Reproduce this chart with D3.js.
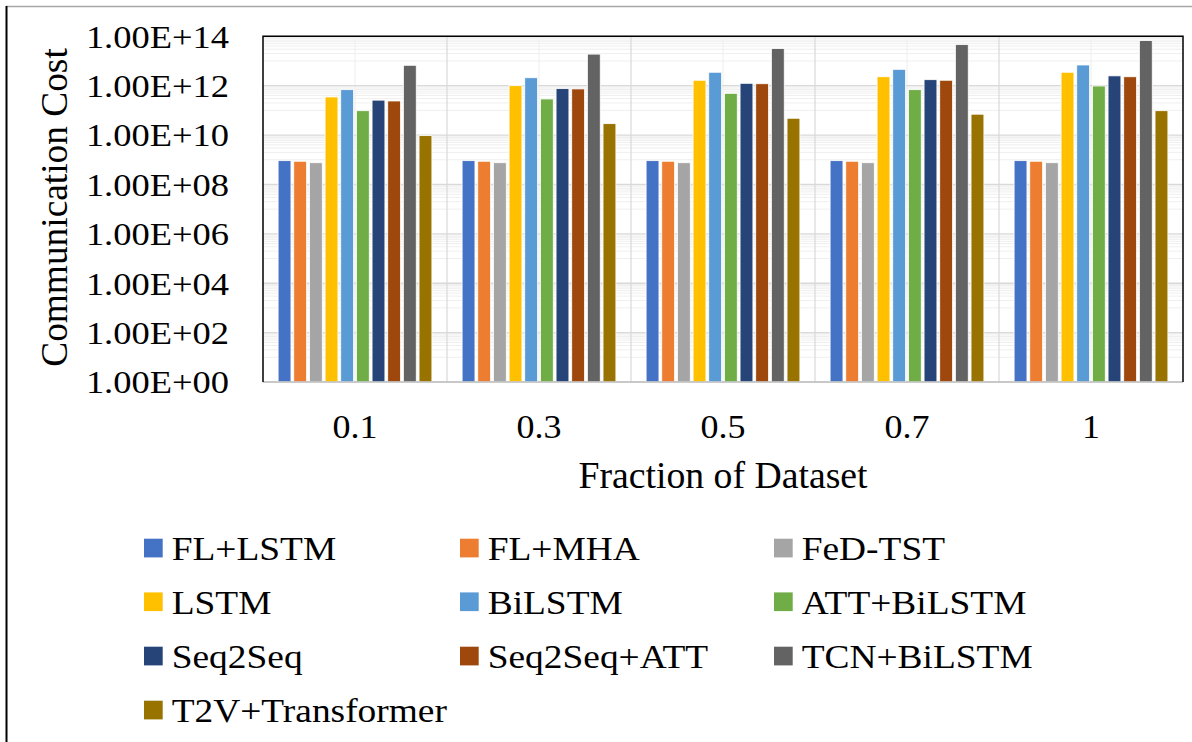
<!DOCTYPE html>
<html>
<head>
<meta charset="utf-8">
<script src="https://cdn.jsdelivr.net/npm/d3@7"></script>
<style>
  body { margin: 0; background: #fff; }
  text { font-family: "Liberation Serif", "Times New Roman", serif; fill: #000; }
</style>
</head>
<body>
<div id="chart-area"></div>
<script>
// Data
var categories = ["0.1", "0.3", "0.5", "0.7", "1"];
var seriesNames = ["FL+LSTM", "FL+MHA", "FeD-TST", "LSTM", "BiLSTM", "ATT+BiLSTM",
    "Seq2Seq", "Seq2Seq+ATT", "TCN+BiLSTM", "T2V+Transformer"];
var seriesColors = ["#4472C4", "#ED7D31", "#A5A5A5", "#FFC000", "#5B9BD5", "#70AD47",
    "#264478", "#9E480E", "#636363", "#997300"];

var flLstm      = [9.2e8, 9.2e8, 9.2e8, 9.2e8, 9.2e8];
var flMha       = [8.7e8, 8.7e8, 8.7e8, 8.7e8, 8.7e8];
var fedTst      = [7.6e8, 7.6e8, 7.6e8, 7.6e8, 7.6e8];
var lstm        = [3.5e11, 1.0e12, 1.66e12, 2.3e12, 3.5e12];
var biLstm      = [6.9e11, 2.1e12, 3.5e12, 4.6e12, 6.9e12];
var attBiLstm   = [9.7e10, 2.9e11, 4.9e11, 6.9e11, 9.7e11];
var seq2seq     = [2.6e11, 7.6e11, 1.25e12, 1.75e12, 2.5e12];
var seq2seqAtt  = [2.4e11, 7.4e11, 1.2e12, 1.66e12, 2.3e12];
var tcnBiLstm   = [6.7e12, 1.9e13, 3.2e13, 4.6e13, 6.7e13];
var t2vTrans    = [9.5e9, 2.9e10, 4.8e10, 7.0e10, 9.7e10];

var seriesValues = [flLstm, flMha, fedTst, lstm, biLstm, attBiLstm,
    seq2seq, seq2seqAtt, tcnBiLstm, t2vTrans];

var yTickValues = [1, 1e2, 1e4, 1e6, 1e8, 1e10, 1e12, 1e14];

var W = 1192, H = 742;
var plot = { left: 263, right: 1183, top: 36.3, bottom: 382 };

var svg = d3.select("#chart-area")
    .append("svg")
    .attr("width", W)
    .attr("height", H);

// the source picture is a bit wider than Times metrics, stretch text sideways
function stretch(sel, sx) {
    sel.each(function() {
        var t = d3.select(this);
        var tx = +t.attr("x") || 0, ty = +t.attr("y") || 0;
        t.attr("x", 0).attr("y", 0)
            .attr("transform", "translate(" + tx + "," + ty + ") scale(" + sx + ",1)");
    });
}

// Outer frame lines
svg.append("line")
    .attr("x1", 6).attr("x2", W).attr("y1", 6.5).attr("y2", 6.5)
    .attr("stroke", "#a6a6a6").attr("stroke-width", 1.5);
svg.append("line")
    .attr("x1", 6.5).attr("x2", 6.5).attr("y1", 6).attr("y2", H)
    .attr("stroke", "#000").attr("stroke-width", 2);

// Scales
var x0 = d3.scaleBand().domain(categories).range([plot.left, plot.right]).padding(0);
var x1 = d3.scaleBand().domain(seriesNames)
    .range([13.7, x0.bandwidth() - 13.7]).padding(0);
var y = d3.scaleLog().domain([1, 1e14]).range([plot.bottom, plot.top]);

// Minor gridlines (k * 10^odd)
var minorTicks = [];
for (var e = 1; e < 14; e += 2) {
    for (var k = 1; k <= 9; k++) minorTicks.push(k * Math.pow(10, e));
}
svg.append("g").selectAll("line")
    .data(minorTicks)
    .enter().append("line")
    .attr("x1", plot.left).attr("x2", plot.right)
    .attr("y1", function(d){ return y(d); })
    .attr("y2", function(d){ return y(d); })
    .attr("stroke", "#efefef").attr("stroke-width", 1);

// Vertical gridlines: category centres (light) and boundaries
svg.append("g").selectAll("line")
    .data(categories)
    .enter().append("line")
    .attr("x1", function(d){ return x0(d) + x0.bandwidth() / 2; })
    .attr("x2", function(d){ return x0(d) + x0.bandwidth() / 2; })
    .attr("y1", plot.top).attr("y2", plot.bottom)
    .attr("stroke", "#f0f0f0").attr("stroke-width", 1.2);
svg.append("g").selectAll("line")
    .data(categories.slice(1))
    .enter().append("line")
    .attr("x1", function(d){ return x0(d); })
    .attr("x2", function(d){ return x0(d); })
    .attr("y1", plot.top).attr("y2", plot.bottom)
    .attr("stroke", "#d9d9d9").attr("stroke-width", 1.2);

// Major gridlines
svg.append("g").selectAll("line")
    .data(yTickValues)
    .enter().append("line")
    .attr("x1", plot.left).attr("x2", plot.right)
    .attr("y1", function(d){ return y(d); })
    .attr("y2", function(d){ return y(d); })
    .attr("stroke", "#d9d9d9").attr("stroke-width", 1.3);

// Bars
var groups = svg.append("g").selectAll("g")
    .data(categories)
    .enter().append("g")
    .attr("transform", function(d){ return "translate(" + x0(d) + ",0)"; });

groups.selectAll("rect")
    .data(function(d, i){
        return seriesNames.map(function(s, j){
            return { name: s, color: seriesColors[j], value: seriesValues[j][i] };
        });
    })
    .enter().append("rect")
    .attr("x", function(d){ return x1(d.name) + 1.4; })
    .attr("width", x1.bandwidth() - 2.8)
    .attr("y", function(d){ return y(d.value); })
    .attr("height", function(d){ return plot.bottom - y(d.value); })
    .attr("fill", function(d){ return d.color; })
    .attr("stroke", "#fff")
    .attr("stroke-width", 0.8);

// Plot frame
svg.append("line")
    .attr("x1", plot.left).attr("x2", plot.right)
    .attr("y1", plot.bottom).attr("y2", plot.bottom)
    .attr("stroke", "#bfbfbf").attr("stroke-width", 1.3);
svg.append("path")
    .attr("d", "M" + plot.left + "," + plot.bottom + "V" + plot.top +
        "H" + plot.right + "V" + plot.bottom)
    .attr("fill", "none")
    .attr("stroke", "#000")
    .attr("stroke-width", 1.5);

// Y axis labels
function sciFormat(v) {
    var e = Math.round(Math.log10(v));
    return "1.00E+" + (e < 10 ? "0" + e : e);
}
var yAxisCall = d3.axisLeft(y)
    .tickValues(yTickValues)
    .tickFormat(sciFormat)
    .tickSize(0)
    .tickPadding(34);
var yAxis = svg.append("g")
    .attr("transform", "translate(" + plot.left + ",0)")
    .call(yAxisCall);
yAxis.select(".domain").remove();
yAxis.selectAll("text")
    .attr("font-family", "Liberation Serif")
    .attr("font-size", "32px")
    .attr("dy", "0.34em")
    .attr("fill", "#000")
    .call(stretch, 1.14);

// X axis labels
var xAxisCall = d3.axisBottom(x0).tickSize(0).tickPadding(0);
var xAxis = svg.append("g")
    .attr("transform", "translate(0," + plot.bottom + ")")
    .call(xAxisCall);
xAxis.select(".domain").remove();
xAxis.selectAll("text")
    .attr("font-family", "Liberation Serif")
    .attr("font-size", "34px")
    .attr("dy", null)
    .attr("y", 56)
    .attr("fill", "#000")
    .call(stretch, 1.06);

// Axis titles
svg.append("text")
    .attr("x", (plot.left + plot.right) / 2)
    .attr("y", 488)
    .attr("font-size", "37px")
    .attr("text-anchor", "middle")
    .text("Fraction of Dataset")
    .call(stretch, 1.02);
svg.append("text")
    .attr("transform", "translate(67,207.5) rotate(-90) scale(1.01,1)")
    .attr("font-size", "37px")
    .attr("text-anchor", "middle")
    .text("Communication Cost");

// Legend
var legendCols = [144, 460, 774];
var legendRows = [548, 601.7, 656, 710];
var legend = svg.append("g").selectAll("g")
    .data(seriesNames)
    .enter().append("g")
    .attr("transform", function(d, i){
        return "translate(" + legendCols[i % 3] + "," + legendRows[Math.floor(i / 3)] + ")";
    });
legend.append("rect")
    .attr("x", 0).attr("y", -9.3)
    .attr("width", 18.7).attr("height", 18.7)
    .attr("fill", function(d, i){ return seriesColors[i]; });
legend.append("text")
    .attr("x", 27.7)
    .attr("y", 12)
    .attr("font-size", "34px")
    .text(function(d){ return d; })
    .call(stretch, 1.1);
</script>
</body>
</html>
